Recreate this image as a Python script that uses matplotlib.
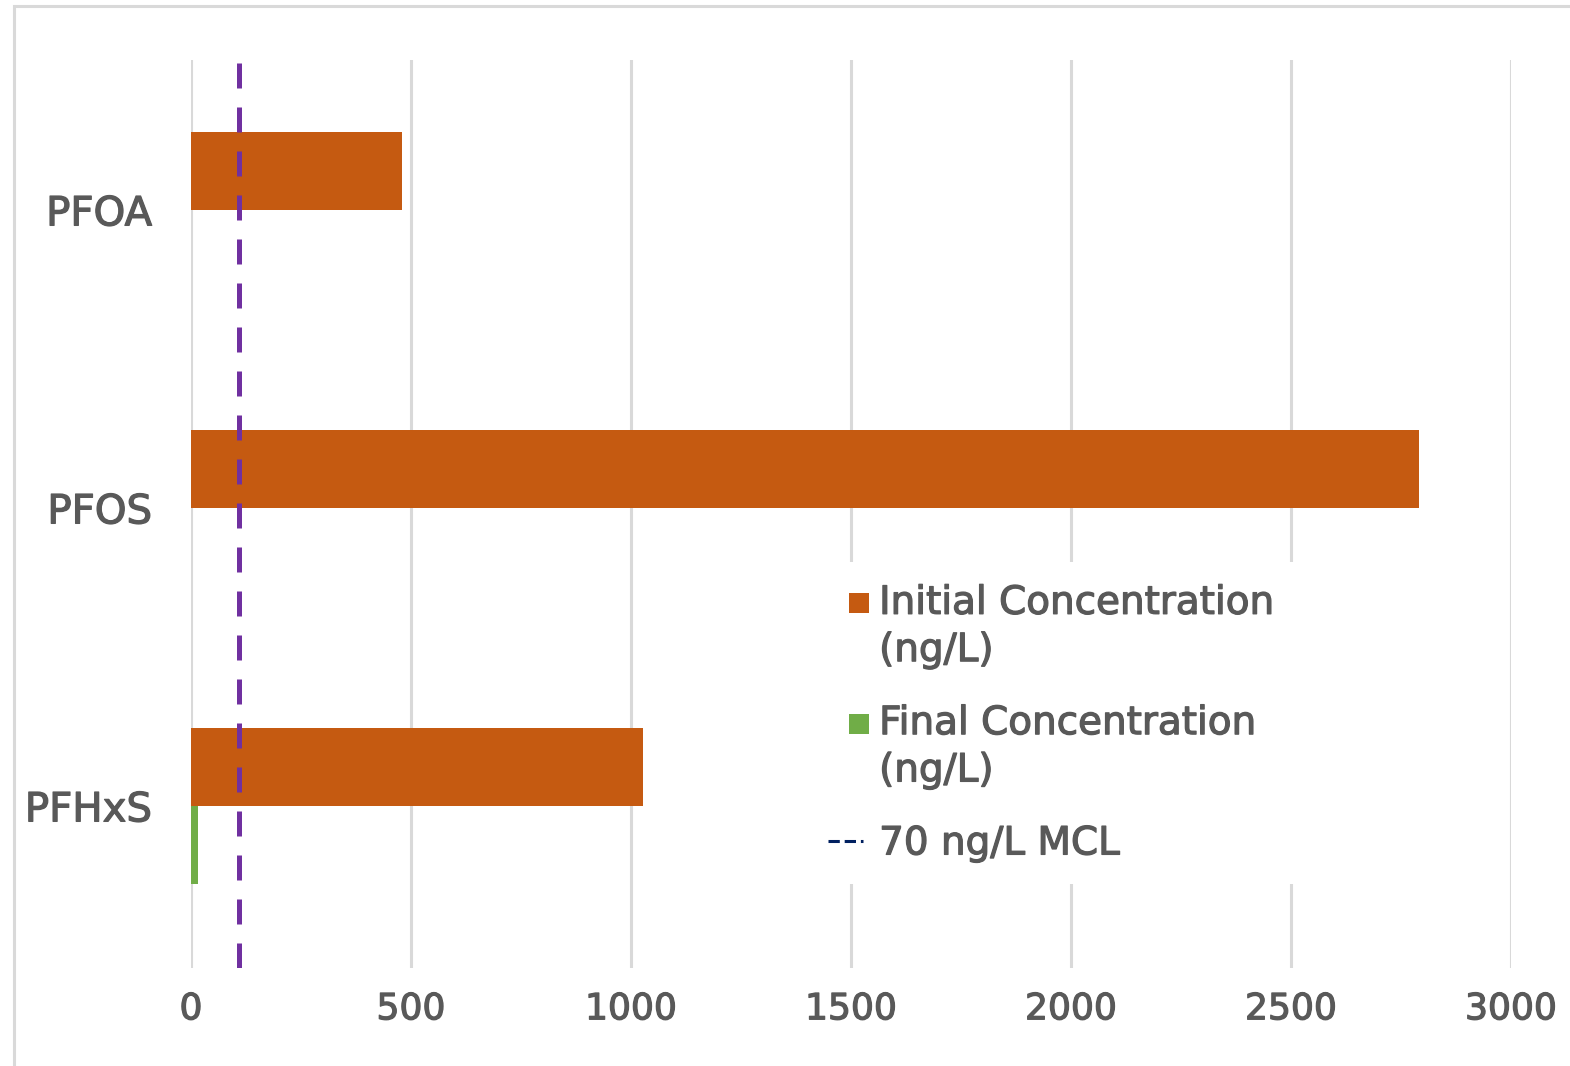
import matplotlib
matplotlib.use("Agg")
import matplotlib.pyplot as plt
import matplotlib.patheffects as pe
from matplotlib.patches import Rectangle
from matplotlib.lines import Line2D

# PFAS concentrations before and after treatment
compounds = ["PFOA", "PFOS", "PFHxS"]
initial_conc = [480, 2790, 1028]
final_conc = [0, 0, 15]
mcl_line_x = 110
x_ticks = [0, 500, 1000, 1500, 2000, 2500, 3000]

ORANGE = "#C55A11"
GREEN = "#70AD47"
PURPLE = "#7030A0"
NAVY = "#002060"
GRID = "#D9D9D9"
TEXT = "#595959"

plt.rcParams["font.family"] = ["DejaVu Sans"]
FS_TICK = 26
FS_CAT = 29
FS_LEG = 28
# slightly heavier strokes for all labels
HEAVY = [pe.withStroke(linewidth=0.9, foreground=TEXT)]


class SwatchHandler:
    """Square swatch placed beside the first line of a wrapped label."""

    def __init__(self, dy=0.0, size=0.52):
        self.dy, self.size = dy, size

    def legend_artist(self, legend, orig_handle, fontsize, handlebox):
        w, h = handlebox.width, handlebox.height
        s = self.size * fontsize
        x = -handlebox.xdescent + w - s
        y = -handlebox.ydescent + h / 2 - s / 2 + self.dy * fontsize
        color = orig_handle.patches[0].get_facecolor()
        patch = Rectangle((x, y), s, s, facecolor=color,
                          edgecolor="none", transform=handlebox.get_transform())
        handlebox.add_artist(patch)
        return patch


class DashHandler:
    """Short two-dash sample for the limit line."""

    def __init__(self, x0=0.23, x1=1.13):
        self.x0, self.x1 = x0, x1

    def legend_artist(self, legend, orig_handle, fontsize, handlebox):
        h = handlebox.height
        y = -handlebox.ydescent + h / 2
        x = -handlebox.xdescent
        line = Line2D([x + self.x0 * fontsize, x + self.x1 * fontsize], [y, y],
                      color=orig_handle.get_color(), lw=orig_handle.get_linewidth(),
                      linestyle=orig_handle.get_linestyle(),
                      transform=handlebox.get_transform())
        handlebox.add_artist(line)
        return line


fig = plt.figure(figsize=(15.7, 10.66), dpi=100)
ax = fig.add_axes([191 / 1570, 1 - 968 / 1066, 1320 / 1570, 908 / 1066])

h = 0.262
pos = list(range(len(compounds)))
bars_init = ax.barh([p - h / 2 for p in pos], initial_conc, height=h,
                    color=ORANGE, zorder=3)
bars_final = ax.barh([p + h / 2 for p in pos], final_conc, height=h,
                     color=GREEN, zorder=3)
ax.axvline(mcl_line_x, color=PURPLE, lw=3.6, linestyle=(0, (5, 3.8)), zorder=4)

ax.set_xlim(0, 3000)
ax.set_ylim(2.544, -0.503)
ax.set_xticks(x_ticks)
ax.set_yticks(pos)
ax.set_yticklabels(compounds)
ax.tick_params(axis="both", length=0, colors=TEXT)
ax.tick_params(axis="x", pad=17.5, labelsize=FS_TICK)
ax.tick_params(axis="y", pad=28, labelsize=FS_CAT)
ax.xaxis.grid(True, color=GRID, lw=2.2, zorder=0)
ax.set_axisbelow(True)
for sp in ax.spines.values():
    sp.set_visible(False)

mcl_handle = Line2D([], [], color=NAVY, lw=2.2, linestyle=(0, (3.6, 3.9)))
leg = ax.legend(
    [bars_init, bars_final, mcl_handle],
    ["Initial Concentration\n(ng/L)", "Final Concentration\n(ng/L)", "70 ng/L MCL"],
    handler_map={bars_init: SwatchHandler(dy=0.63), bars_final: SwatchHandler(dy=0.63),
                 mcl_handle: DashHandler()},
    loc="upper left", bbox_to_anchor=(778 / 1570, 1 - 543 / 1066),
    bbox_transform=fig.transFigure, fontsize=FS_LEG, labelcolor=TEXT,
    frameon=True, fancybox=False, framealpha=1, edgecolor="none",
    handlelength=1.3, handletextpad=0.25, labelspacing=0.9, borderpad=0.55,
)
leg.set_zorder(5)
for t in leg.get_texts():
    t.set_linespacing(1.31)
    t.set_path_effects(HEAVY)
for t in ax.get_xticklabels() + ax.get_yticklabels():
    t.set_path_effects(HEAVY)

# light outer border of the chart area
fig.patches.append(Rectangle((13.5 / 1570, -0.1), 1.2, 1.1 - 5.5 / 1066,
                             transform=fig.transFigure, fill=False,
                             edgecolor=GRID, lw=2.2))

fig.savefig("out.png", dpi=100, facecolor="white")
